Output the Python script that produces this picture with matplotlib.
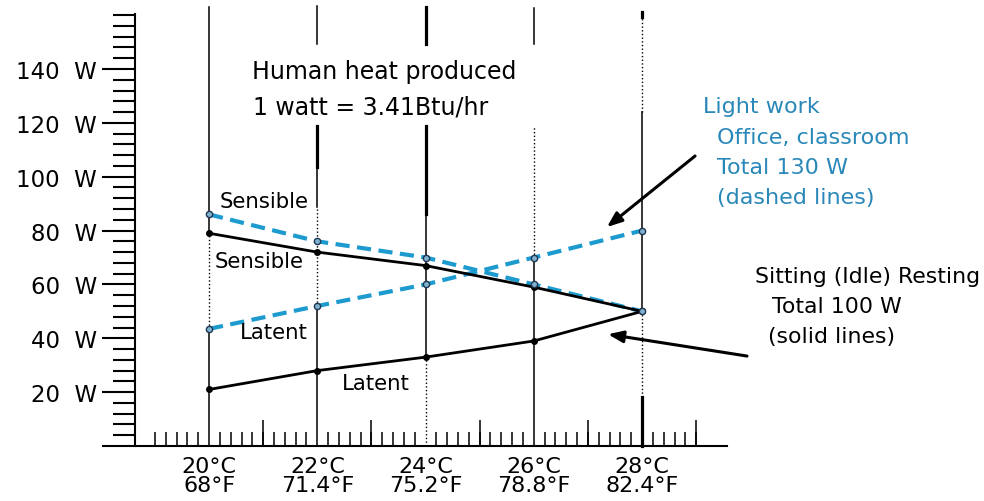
import matplotlib
matplotlib.use('Agg')
import matplotlib.pyplot as plt
import numpy as np
from matplotlib.ticker import FixedLocator

plt.rcParams['font.family'] = 'DejaVu Sans'

# temperatures and heat output
temps_c = [20, 22, 24, 26, 28]
temps_f = ['68', '71.4', '75.2', '78.8', '82.4']
idle_sensible = [79, 72, 67, 59, 50]
idle_latent = [21, 28, 33, 39, 50]
light_sensible = [86, 76, 70, 60, 50]
light_latent = [43.5, 52, 60, 70, 80]
watt_ticks = [20, 40, 60, 80, 100, 120, 140]

blue = '#1d9bcf'
text_blue = '#2a88b9'

fig = plt.figure(figsize=(9.84, 5.02), dpi=100)
ax = fig.add_axes([103 / 984, 55 / 502, 624 / 984, 447 / 502])
ax.set_xlim(18.04, 29.57)
ax.set_ylim(0, 166)

# vertical guide lines, drawn piecewise like the original sketch
thin, thick = 1.1, 2.3
guides = {
    20: [(0, light_latent[0], '-', thin), (light_latent[0], idle_sensible[0], ':', 1.0),
         (idle_sensible[0], 163, '-', thin)],
    22: [(0, light_latent[1], '-', thin), (light_latent[1], 88.7, ':', 1.0),
         (88.7, 103.5, '-', thin), (103.5, 118.8, '-', thick), (149.2, 163.3, '-', thin)],
    24: [(0, idle_latent[2], ':', 1.0), (idle_latent[2], 86, '-', thin),
         (86, 118.8, '-', thick), (149.2, 163, '-', thick)],
    26: [(0, light_latent[3], '-', thin), (light_latent[3], 118.8, ':', 1.0),
         (149.2, 162.5, '-', thin)],
    28: [(0, 18.1, '-', thick), (18.1, idle_sensible[4], ':', 1.0),
         (idle_sensible[4], 124, '-', thin), (124, 159.2, ':', 1.0), (159.2, 161.3, '-', thick)],
}
for t, segs in guides.items():
    for lo, hi, ls, lw in segs:
        ax.plot([t, t], [lo, hi], color='black', ls=ls, lw=lw, clip_on=False, zorder=1)

# light work (dashed)
ax.plot(temps_c, light_sensible, color=blue, lw=3.0, dashes=(3.4, 1.8), zorder=2)
ax.plot(temps_c, light_latent, color=blue, lw=3.0, dashes=(3.4, 1.8), zorder=2)
ax.plot(temps_c, light_sensible, 'o', ms=4.5, mfc='#7fb2cf', mec='#1f3550', mew=1.0, zorder=4)
ax.plot(temps_c, light_latent, 'o', ms=4.5, mfc='#7fb2cf', mec='#1f3550', mew=1.0, zorder=4)

# sitting (solid)
ax.plot(temps_c, idle_sensible, color='black', lw=2.0, marker='o', ms=4, zorder=3)
ax.plot(temps_c, idle_latent, color='black', lw=2.0, marker='o', ms=4, zorder=3)

# axes
for s in ['top', 'right']:
    ax.spines[s].set_visible(False)
ax.spines['left'].set_position(('data', 18.633))
ax.spines['left'].set_bounds(0, 160.5)
ax.spines['left'].set_linewidth(1.5)
ax.spines['bottom'].set_linewidth(1.5)

ax.set_yticks(watt_ticks, [f'{w}  W' for w in watt_ticks])
ax.yaxis.set_minor_locator(FixedLocator(np.arange(4, 161, 4)))
ax.tick_params(axis='y', which='major', direction='out', length=24, width=1.5,
               pad=3.5, labelsize=16.5)
ax.tick_params(axis='y', which='minor', direction='out', length=16, width=1.5)

ax.set_xticks(temps_c, [f'{c}°C\n{f}°F' for c, f in zip(temps_c, temps_f)])
ax.xaxis.set_minor_locator(FixedLocator(np.arange(19, 29.01, 0.2)))
ax.tick_params(axis='x', which='major', length=0, pad=7, labelsize=16)
ax.tick_params(axis='x', which='minor', direction='in', length=10, width=1.1)
for lab in ax.get_xticklabels():
    lab.set_linespacing(0.95)

sec = ax.secondary_xaxis('bottom')
sec.set_xticks([21, 23, 25, 27, 29], [])
sec.tick_params(direction='in', length=19, width=1.1)
sec.spines['bottom'].set_visible(False)

# labels in the plot
ax.text(20.79, 139.2, 'Human heat produced', fontsize=17, va='center')
ax.text(20.81, 126.2, '1 watt = 3.41Btu/hr', fontsize=17, va='center')
ax.text(20.20, 90.9, 'Sensible', fontsize=15.3, va='center')
ax.text(20.11, 68.6, 'Sensible', fontsize=15.3, va='center')
ax.text(20.57, 42.3, 'Latent', fontsize=15.3, va='center')
ax.text(22.46, 23.3, 'Latent', fontsize=15.3, va='center')

ax.text(29.13, 126.2, 'Light work', fontsize=16, color=text_blue, va='center', clip_on=False)
ax.text(29.39, 114.7, 'Office, classroom', fontsize=16, color=text_blue, va='center', clip_on=False)
ax.text(29.39, 103.6, 'Total 130 W', fontsize=16, color=text_blue, va='center', clip_on=False)
ax.text(29.39, 92.4, '(dashed lines)', fontsize=16, color=text_blue, va='center', clip_on=False)

ax.text(30.09, 63.1, 'Sitting (Idle) Resting', fontsize=15.8, va='center', clip_on=False)
ax.text(30.40, 51.9, 'Total 100 W', fontsize=15.8, va='center', clip_on=False)
ax.text(30.33, 40.8, '(solid lines)', fontsize=15.8, va='center', clip_on=False)

arrow = dict(arrowstyle='-|>,head_length=0.9,head_width=0.35', color='black', lw=2.2,
             shrinkA=0, shrinkB=0)
ax.annotate('', xy=(27.35, 81.3), xytext=(28.98, 107.7), arrowprops=arrow,
            annotation_clip=False)
ax.annotate('', xy=(27.37, 41.5), xytext=(29.94, 33.4), arrowprops=arrow,
            annotation_clip=False)

fig.savefig('out.png', dpi=100)
